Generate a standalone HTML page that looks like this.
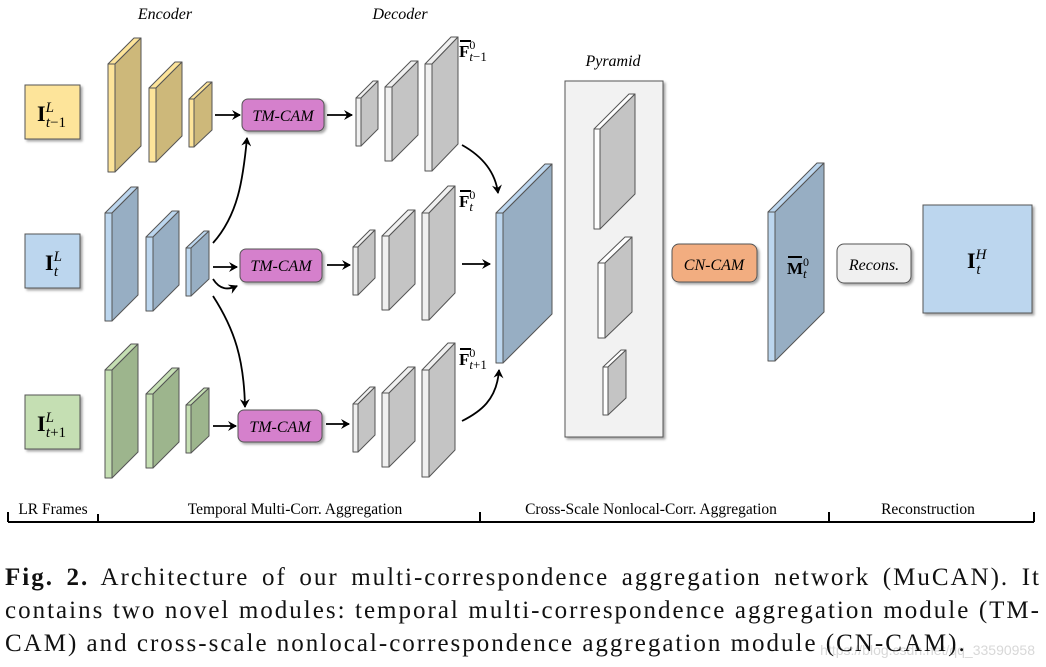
<!DOCTYPE html>
<html><head><meta charset="utf-8"><style>
html,body{margin:0;padding:0;background:#fff;width:1046px;height:667px;overflow:hidden}
svg{position:absolute;left:0;top:0}
.cap{position:absolute;left:5px;width:1036px;font-family:"Liberation Serif",serif;font-size:25px;line-height:30px;color:#111;text-align:justify;text-align-last:justify;white-space:nowrap;letter-spacing:2px}
</style></head><body>
<svg id="s" width="1046" height="667" viewBox="0 0 1046 667" xmlns="http://www.w3.org/2000/svg" font-family="Liberation Serif, serif">
<defs>
<marker id="ah" markerWidth="10" markerHeight="10" refX="8" refY="5" orient="auto" markerUnits="userSpaceOnUse"><path d="M0,0 L9,5 L0,10 L3,5 z" fill="#000"/></marker>
<filter id="sh" x="-10%" y="-10%" width="130%" height="130%"><feDropShadow dx="2" dy="2" stdDeviation="1.2" flood-color="#000" flood-opacity="0.35"/></filter>
</defs>
<rect x="565" y="81" width="98" height="356" fill="#f2f2f2" stroke="#555" stroke-width="1" filter="url(#sh)"/>
<g id="g"></g>
<text x="165" y="19" font-size="16" font-style="italic" text-anchor="middle">Encoder</text>
<text x="400" y="19" font-size="16" font-style="italic" text-anchor="middle">Decoder</text>
<text x="613" y="66" font-size="16" font-style="italic" text-anchor="middle">Pyramid</text>
<g filter="url(#sh)" stroke="#555" stroke-width="1">
<rect x="25" y="85" width="55" height="54" fill="#fde49a"/>
<rect x="25" y="234" width="55" height="54" fill="#bcd6ee"/>
<rect x="25" y="395" width="55" height="54" fill="#c5dfb3"/>
<rect x="672" y="244" width="85" height="38" rx="7" fill="#f2ad80"/>
<rect x="837" y="244" width="74" height="39" rx="7" fill="#f0f0f0"/>
<rect x="923" y="205" width="109" height="108" fill="#bcd6ee"/>
<rect x="242" y="99" width="82" height="32" rx="6" fill="#d580cc"/>
<rect x="240" y="249" width="82" height="33" rx="6" fill="#d580cc"/>
<rect x="238" y="410" width="84" height="32" rx="6" fill="#d580cc"/>
</g>
<g font-size="16" font-style="italic" text-anchor="middle">
<text x="283" y="121">TM-CAM</text>
<text x="281" y="271">TM-CAM</text>
<text x="280" y="432">TM-CAM</text>
<text x="714" y="270">CN-CAM</text>
<text x="874" y="270">Recons.</text>
</g>
<g font-weight="bold" font-size="22">
<text x="37" y="121">I<tspan font-size="15" font-style="italic" font-weight="normal" dy="-9">L</tspan><tspan font-size="15" font-style="italic" font-weight="normal" dx="-8" dy="15">t</tspan><tspan font-size="15" font-weight="normal">−1</tspan></text>
<text x="45" y="270">I<tspan font-size="15" font-style="italic" font-weight="normal" dy="-9">L</tspan><tspan font-size="15" font-style="italic" font-weight="normal" dx="-8" dy="15">t</tspan></text>
<text x="37" y="431">I<tspan font-size="15" font-style="italic" font-weight="normal" dy="-9">L</tspan><tspan font-size="15" font-style="italic" font-weight="normal" dx="-8" dy="15">t</tspan><tspan font-size="15" font-weight="normal">+1</tspan></text>
<text x="967" y="268">I<tspan font-size="15" font-style="italic" font-weight="normal" dy="-9">H</tspan><tspan font-size="15" font-style="italic" font-weight="normal" dx="-10" dy="15">t</tspan></text>
</g>
<g font-weight="bold" font-size="17">
<text x="459" y="57">F<tspan font-size="12" font-weight="normal" dy="-8">0</tspan><tspan font-size="13" font-style="italic" font-weight="normal" dx="-6" dy="12">t</tspan><tspan font-size="13" font-weight="normal">−1</tspan></text>
<text x="459" y="207">F<tspan font-size="12" font-weight="normal" dy="-8">0</tspan><tspan font-size="13" font-style="italic" font-weight="normal" dx="-6" dy="12">t</tspan></text>
<text x="459" y="365">F<tspan font-size="12" font-weight="normal" dy="-8">0</tspan><tspan font-size="13" font-style="italic" font-weight="normal" dx="-6" dy="12">t</tspan><tspan font-size="13" font-weight="normal">+1</tspan></text>
<text x="787" y="274">M<tspan font-size="12" font-weight="normal" dy="-8">0</tspan><tspan font-size="13" font-style="italic" font-weight="normal" dx="-6" dy="12">t</tspan></text>
</g>
<g stroke="#000" stroke-width="2">
<line x1="460" y1="41" x2="471" y2="41"/><line x1="460" y1="191" x2="471" y2="191"/><line x1="460" y1="349" x2="471" y2="349"/><line x1="788" y1="257" x2="802" y2="257"/>
</g>
<g stroke="#000" stroke-width="1.8" fill="none" marker-end="url(#ah)">
<path d="M215,115 L240,115"/>
<path d="M327,115 L352,115"/>
<path d="M213,267 L237,267"/>
<path d="M327,265 L350,265"/>
<path d="M213,426 L236,426"/>
<path d="M326,424 L349,424"/>
<path d="M462,264 L490,264"/>
<path d="M213,243 C238,215 243,180 247,138"/>
<path d="M213,279 C220,290 228,290 237,286"/>
<path d="M213,296 C235,330 244,360 245,407"/>
<path d="M462,145 C480,155 495,170 498,193"/>
<path d="M462,421 C480,412 497,400 499,370"/>
</g>
<g stroke="#000" stroke-width="2" fill="none">
<line x1="8" y1="522" x2="1034" y2="522"/>
<line x1="8" y1="512" x2="8" y2="522"/><line x1="98" y1="514" x2="98" y2="522"/><line x1="480" y1="512" x2="480" y2="522"/><line x1="829" y1="512" x2="829" y2="522"/><line x1="1034" y1="512" x2="1034" y2="522"/>
</g>
<g font-size="15.5" text-anchor="middle">
<text x="53" y="514">LR Frames</text>
<text x="295" y="514">Temporal Multi-Corr. Aggregation</text>
<text x="651" y="514">Cross-Scale Nonlocal-Corr. Aggregation</text>
<text x="928" y="514">Reconstruction</text>
</g>
<text x="1035" y="655" font-family="Liberation Sans, sans-serif" font-size="14" fill="#d8d8d8" text-anchor="end">https://blog.csdn.net/qq_33590958</text>
</svg>
<div class="cap" style="top:563px"><b>Fig. 2.</b> Architecture of our multi-correspondence aggregation network (MuCAN). It</div>
<div class="cap" style="top:596px">contains two novel modules: temporal multi-correspondence aggregation module (TM-</div>
<div class="cap" style="top:629px;text-align-last:left">CAM) and cross-scale nonlocal-correspondence aggregation module (CN-CAM).</div>
<script>
var g=document.getElementById('g'),NS='http://www.w3.org/2000/svg';
function poly(pts,fill){var p=document.createElementNS(NS,'polygon');p.setAttribute('points',pts.map(function(a){return a.join(',')}).join(' '));p.setAttribute('fill',fill);p.setAttribute('stroke','#555');p.setAttribute('stroke-width','1');p.setAttribute('stroke-linejoin','round');g.appendChild(p);}
function slab(x,yt,t,h,dx,dy,fr,sd){
 poly([[x,yt],[x+dx,yt-dy],[x+t+dx,yt-dy],[x+t,yt]],fr);
 poly([[x+t,yt],[x+t+dx,yt-dy],[x+t+dx,yt-dy+h],[x+t,yt+h]],sd);
 poly([[x,yt],[x+t,yt],[x+t,yt+h],[x,yt+h]],fr);
}
var rows=[[3,-149,'#fde49a','#cdb87a'],[0,0,'#bcd6ee','#97aec3'],[0,157,'#c5dfb3','#9db58d']];
rows.forEach(function(r){var ox=r[0],oy=r[1];
 slab(105+ox,213+oy,7,108,26,26,r[2],r[3]);
 slab(146+ox,237+oy,7,74,26,26,r[2],r[3]);
 slab(186+ox,248+oy,5,48,18,17,r[2],r[3]);
 slab(353+ox,247+oy,5,48,17,17,'#f0f0f0','#c4c4c4');
 slab(382+ox,236+oy,7,74,26,26,'#f0f0f0','#c4c4c4');
 slab(422+ox,213+oy,7,107,26,27,'#f0f0f0','#c4c4c4');
});
slab(496,213,7,150,49,49,'#bcd6ee','#97aec3');
slab(768,212,7,149,49,49,'#bcd6ee','#97aec3');
slab(594,129,6,100,35,35,'#ffffff','#c4c4c4');
slab(598,263,7,75,27,26,'#ffffff','#c4c4c4');
slab(603,367,5,48,18,17,'#ffffff','#c4c4c4');
</script>
</body></html>
